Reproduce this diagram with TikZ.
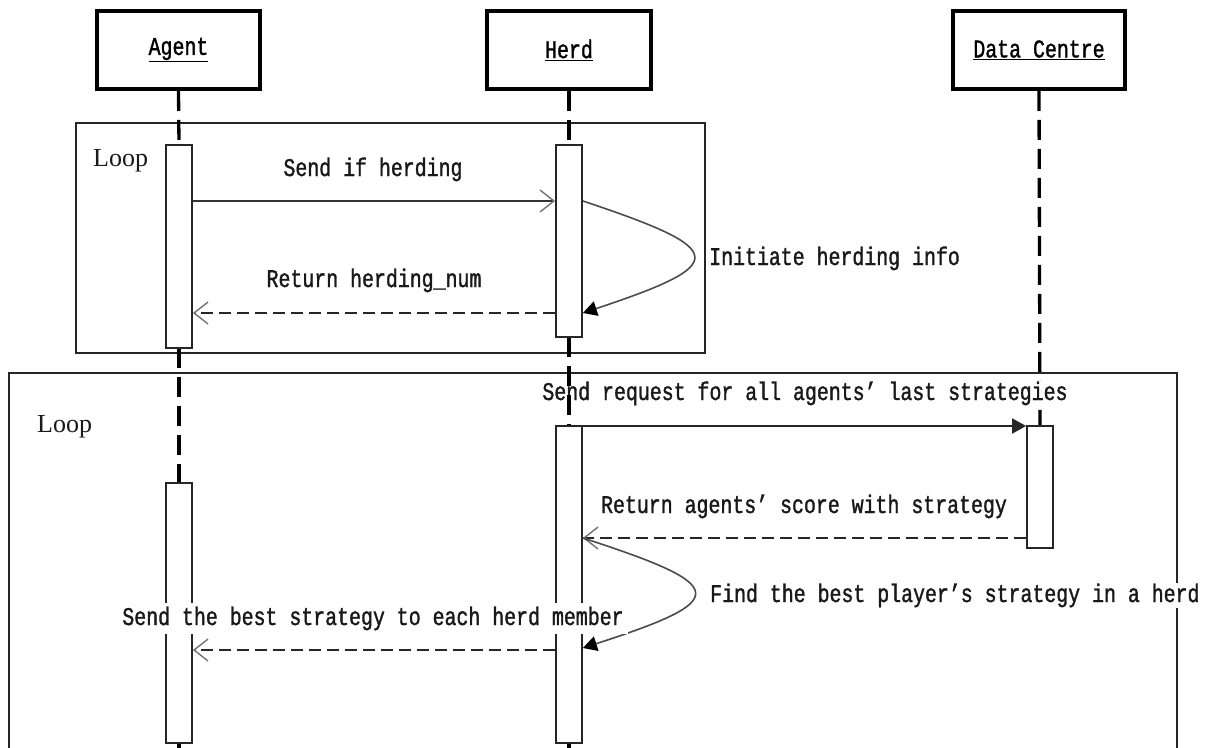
\documentclass[tikz,border=0pt]{standalone}
\usepackage{fontspec}
\usetikzlibrary{arrows.meta}
\newfontfamily\lblfont[FakeStretch=0.78,FakeBold=1.3]{Liberation Mono}
\newfontfamily\loopfont{Liberation Serif}
\begin{document}
\begin{tikzpicture}[x=1pt,y=-1pt,
  headbox/.style={draw=black, line width=3.6pt, minimum height=78pt, inner sep=0pt, font=\lblfont\fontsize{25.5}{28}\selectfont},
  actbar/.style={draw=black!85, line width=1.8pt, fill=white, minimum width=26pt, inner sep=0pt},
  lifeline/.style={draw=black, line width=3.3pt, dash pattern=on 20pt off 9pt},
  frame/.style={draw=black!85, line width=1.7pt},
  msgtext/.style={font=\lblfont\fontsize{25.5}{28}\selectfont, inner sep=2pt, text=black!90},
  looptext/.style={font=\loopfont\fontsize{26}{30}\selectfont, inner sep=0pt, anchor=base west, text=black!90},
  callmsg/.style={draw=black!80, line width=1.6pt, -{Straight Barb[length=14pt,width=22pt,line width=1.4pt,color=black!55]}},
  retmsg/.style={draw=black!85, line width=2pt, dash pattern=on 12pt off 6pt, -{Straight Barb[length=14pt,width=22pt,line width=1.4pt,color=black!55]}},
  syncmsg/.style={draw=black!85, line width=1.8pt, -{Triangle[length=14pt,width=15pt]}},
  selfmsg/.style={draw=black!70, line width=1.6pt, -{Triangle[length=14pt,width=15pt,color=black]}}
]
\useasboundingbox (0,0) rectangle (1210,747);
\fill[white] (0,0) rectangle (1210,747);

% loop frames
\draw[frame] (76,123) rectangle (705,353);
\draw[frame] (9,770) -- (9,373) -- (1177,373) -- (1177,770);
\node[looptext] (loop1) at (93,166) {Loop};
\node[looptext] (loop2) at (37,432) {Loop};

% participants
\node[headbox, minimum width=163pt] (hA) at (178.5,50) {\underline{Agent}};
\node[headbox, minimum width=164pt] (hH) at (569,50) {\underline{Herd}};
\node[headbox, minimum width=172pt] (hD) at (1039,50) {\underline{Data Centre}};

% activation bar positions
\coordinate (a1c) at (179,246.5);
\coordinate (h1c) at (569,241);
\coordinate (a2c) at (179,613);
\coordinate (h2c) at (569,584.5);
\coordinate (d1c) at (1040,487);

% lifelines
\coordinate (aEnd) at (179,760);
\coordinate (hEnd) at (569,760);
\draw[lifeline] (hD.south) -- (1040,426);
\node[msgtext, anchor=base, fill=white, inner sep=1pt] (t4) at (805,400) {Send request for all agents’ last strategies};
\draw[lifeline] (hA.south) -- (179,145);
\draw[lifeline] (hH.south) -- (569,145);
\draw[lifeline] (179,348) -- (179,483);
\draw[lifeline] (569,337) -- (569,426);
\draw[lifeline] (179,743) -- (aEnd);
\draw[lifeline] (569,743) -- (hEnd);

\node[actbar, minimum height=203pt] (a1) at (a1c) {};
\node[actbar, minimum height=192pt] (h1) at (h1c) {};
\node[actbar, minimum height=260pt] (a2) at (a2c) {};
\node[actbar, minimum height=317pt] (h2) at (h2c) {};
\node[actbar, minimum height=122pt] (d1) at (d1c) {};

% loop 1 messages
\draw[callmsg] (a1.east |- 0,201) -- (h1.west |- 0,201);
\node[msgtext, anchor=base] (t1) at (373,176) {Send if herding};
\draw[selfmsg] (h1.east |- 0,201) .. controls (730,250) and (730,264) .. (h1.east |- 0,313);
\node[msgtext, anchor=base west, inner sep=0pt] (t2) at (709,265) {Initiate herding info};
\draw[retmsg] (h1.west |- 0,313) -- (a1.east |- 0,313);
\node[msgtext, anchor=base] (t3) at (374,287) {Return herding\_num};

% loop 2 messages
\draw[syncmsg] (h2.east |- 0,426) -- (d1.west |- 0,426);
\draw[retmsg] (d1.west |- 0,538) -- (h2.east |- 0,538);
\node[msgtext, anchor=base] (t5) at (804,513) {Return agents’ score with strategy};
\draw[selfmsg] (h2.east |- 0,538) .. controls (731,586) and (731,600) .. (h2.east |- 0,648);
\node[msgtext, anchor=base west, fill=white, inner sep=1pt] (t6) at (709,602) {Find the best player’s strategy in a herd};
\draw[retmsg] (h2.west |- 0,650) -- (a2.east |- 0,650);
\node[msgtext, anchor=base, fill=white, inner sep=4pt] (t7) at (373,625) {Send the best strategy to each herd member};
\end{tikzpicture}
\end{document}
